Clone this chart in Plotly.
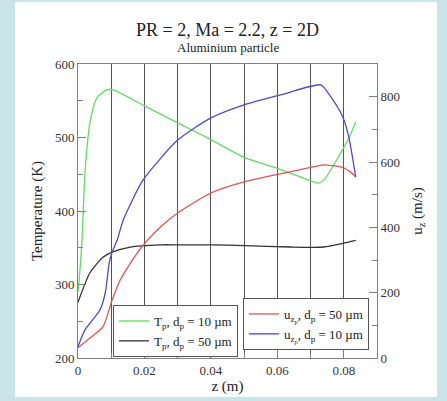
import plotly.graph_objects as go

# Tp, dp = 10 um (left axis, K)
z_t10 = [0, 0.0006, 0.0012, 0.0021, 0.0036, 0.0057, 0.0088, 0.011, 0.02, 0.03, 0.04, 0.05,
         0.06, 0.066, 0.0722, 0.074, 0.0791, 0.0815, 0.0836]
t10 = [290, 320, 360, 452, 520, 554, 565, 564, 543, 520, 497, 473,
       458, 448, 438, 442, 479, 499, 521]

# Tp, dp = 50 um (left axis, K)
z_t50 = [0, 0.0036, 0.0075, 0.0103, 0.0157, 0.0248, 0.03, 0.04, 0.05, 0.064, 0.074, 0.0797, 0.0836]
t50 = [276, 316, 337, 344, 351, 354, 354, 354, 353, 351, 351, 356, 360]

# uzp, dp = 50 um (right axis, m/s)
z_u50 = [0, 0.0036, 0.0075, 0.0103, 0.0127, 0.0178, 0.0202, 0.0248, 0.03, 0.04, 0.05, 0.062,
         0.0722, 0.074, 0.0791, 0.0821, 0.0836]
u50 = [31, 61, 95, 178, 239, 321, 352, 401, 444, 505, 539, 566, 588, 591, 585, 569, 554]

# uzp, dp = 10 um (right axis, m/s)
z_u10 = [0, 0.0021, 0.0066, 0.0082, 0.0094, 0.0103, 0.0118, 0.0136, 0.0196, 0.03, 0.04, 0.05,
         0.062, 0.0731, 0.0761, 0.0797, 0.0815, 0.0836]
u10 = [34, 86, 147, 199, 291, 325, 361, 422, 545, 667, 735, 775, 808, 836, 799, 738, 677, 554]

FONT = "Liberation Serif, Times New Roman, serif"
W, H = 447, 401
L, R, T, B = 78, 377, 64, 358


def px(x):
    return (x - L) / (R - L)


def py(y):
    return (B - y) / (B - T)


LINE = dict(width=1.3, shape="spline", smoothing=0.6)

fig = go.Figure()
fig.add_trace(go.Scatter(x=z_t10, y=t10, mode="lines", line=dict(color="#62dc62", **LINE),
                         name="T<sub>p</sub>, d<sub>p</sub> = 10 µm", legend="legend"))
fig.add_trace(go.Scatter(x=z_t50, y=t50, mode="lines", line=dict(color="#333333", **LINE),
                         name="T<sub>p</sub>, d<sub>p</sub> = 50 µm", legend="legend"))
fig.add_trace(go.Scatter(x=z_u50, y=u50, mode="lines", line=dict(color="#e05555", **LINE),
                         name="u<sub>z<sub>p</sub></sub>, d<sub>p</sub> = 50 µm", yaxis="y2",
                         legend="legend2"))
fig.add_trace(go.Scatter(x=z_u10, y=u10, mode="lines", line=dict(color="#4b4bd0", **LINE),
                         name="u<sub>z<sub>p</sub></sub>, d<sub>p</sub> = 10 µm", yaxis="y2",
                         legend="legend2"))

axis_line = "#808080"
tickfont = dict(family=FONT, size=13, color="#333333")
titlefont = dict(family=FONT, size=15, color="#222222")

fig.update_layout(
    width=W, height=H,
    margin=dict(l=L, r=W - R, t=T, b=H - B),
    paper_bgcolor="#c8e4e8",
    plot_bgcolor="white",
    font=dict(family=FONT, color="#222222"),
    xaxis=dict(range=[0, 0.09], tick0=0, dtick=0.02, showgrid=True, gridcolor="#555555", gridwidth=1,
               minor=dict(dtick=0.01, showgrid=True, gridcolor="#555555", ticks="inside", ticklen=5,
                          tickcolor=axis_line),
               ticks="inside", ticklen=8, tickcolor=axis_line, showline=True, linecolor=axis_line,
               mirror=True, zeroline=False, tickfont=tickfont,
               title=dict(text="z (m)", font=titlefont, standoff=2)),
    yaxis=dict(range=[200, 600], tick0=200, dtick=100, showgrid=False, zeroline=False,
               minor=dict(dtick=50, ticks="inside", ticklen=5, tickcolor=axis_line),
               ticks="inside", ticklen=8, tickcolor=axis_line, showline=True, linecolor=axis_line,
               tickfont=tickfont,
               title=dict(text="Temperature (K)", font=titlefont, standoff=8)),
    yaxis2=dict(range=[0, 900], tick0=0, dtick=200, overlaying="y", side="right", showgrid=False,
                zeroline=False, minor=dict(dtick=100, ticks="inside", ticklen=5, tickcolor=axis_line),
                ticks="inside", ticklen=8, tickcolor=axis_line, showline=True, linecolor=axis_line,
                tickfont=tickfont,
                title=dict(text="u<sub>z</sub> (m/s)", font=titlefont, standoff=12)),
    legend=dict(x=px(113), y=py(305), xanchor="left", yanchor="top", bgcolor="white",
                bordercolor="#555555", borderwidth=1, font=dict(family=FONT, size=13, color="#222222"),
                itemwidth=30, tracegroupgap=0),
    legend2=dict(x=px(243), y=py(298), xanchor="left", yanchor="top", bgcolor="white",
                 bordercolor="#555555", borderwidth=1, font=dict(family=FONT, size=13, color="#222222"),
                 itemwidth=30, tracegroupgap=0),
    shapes=[dict(type="rect", xref="paper", yref="paper", x0=px(15), x1=px(437), y0=py(397), y1=py(2),
                 fillcolor="white", line=dict(width=0), layer="below")],
    annotations=[
        dict(text="PR = 2, Ma = 2.2, z = 2D", xref="paper", yref="paper", x=px(227), y=py(30),
             xanchor="center", yanchor="middle", showarrow=False,
             font=dict(family=FONT, size=18, color="#222222")),
        dict(text="Aluminium particle", xref="paper", yref="paper", x=px(228), y=py(48),
             xanchor="center", yanchor="middle", showarrow=False,
             font=dict(family=FONT, size=13, color="#222222")),
    ],
)

fig.write_html("out.html", config={"displayModeBar": False},
               post_script="document.body.style.margin='0';")
